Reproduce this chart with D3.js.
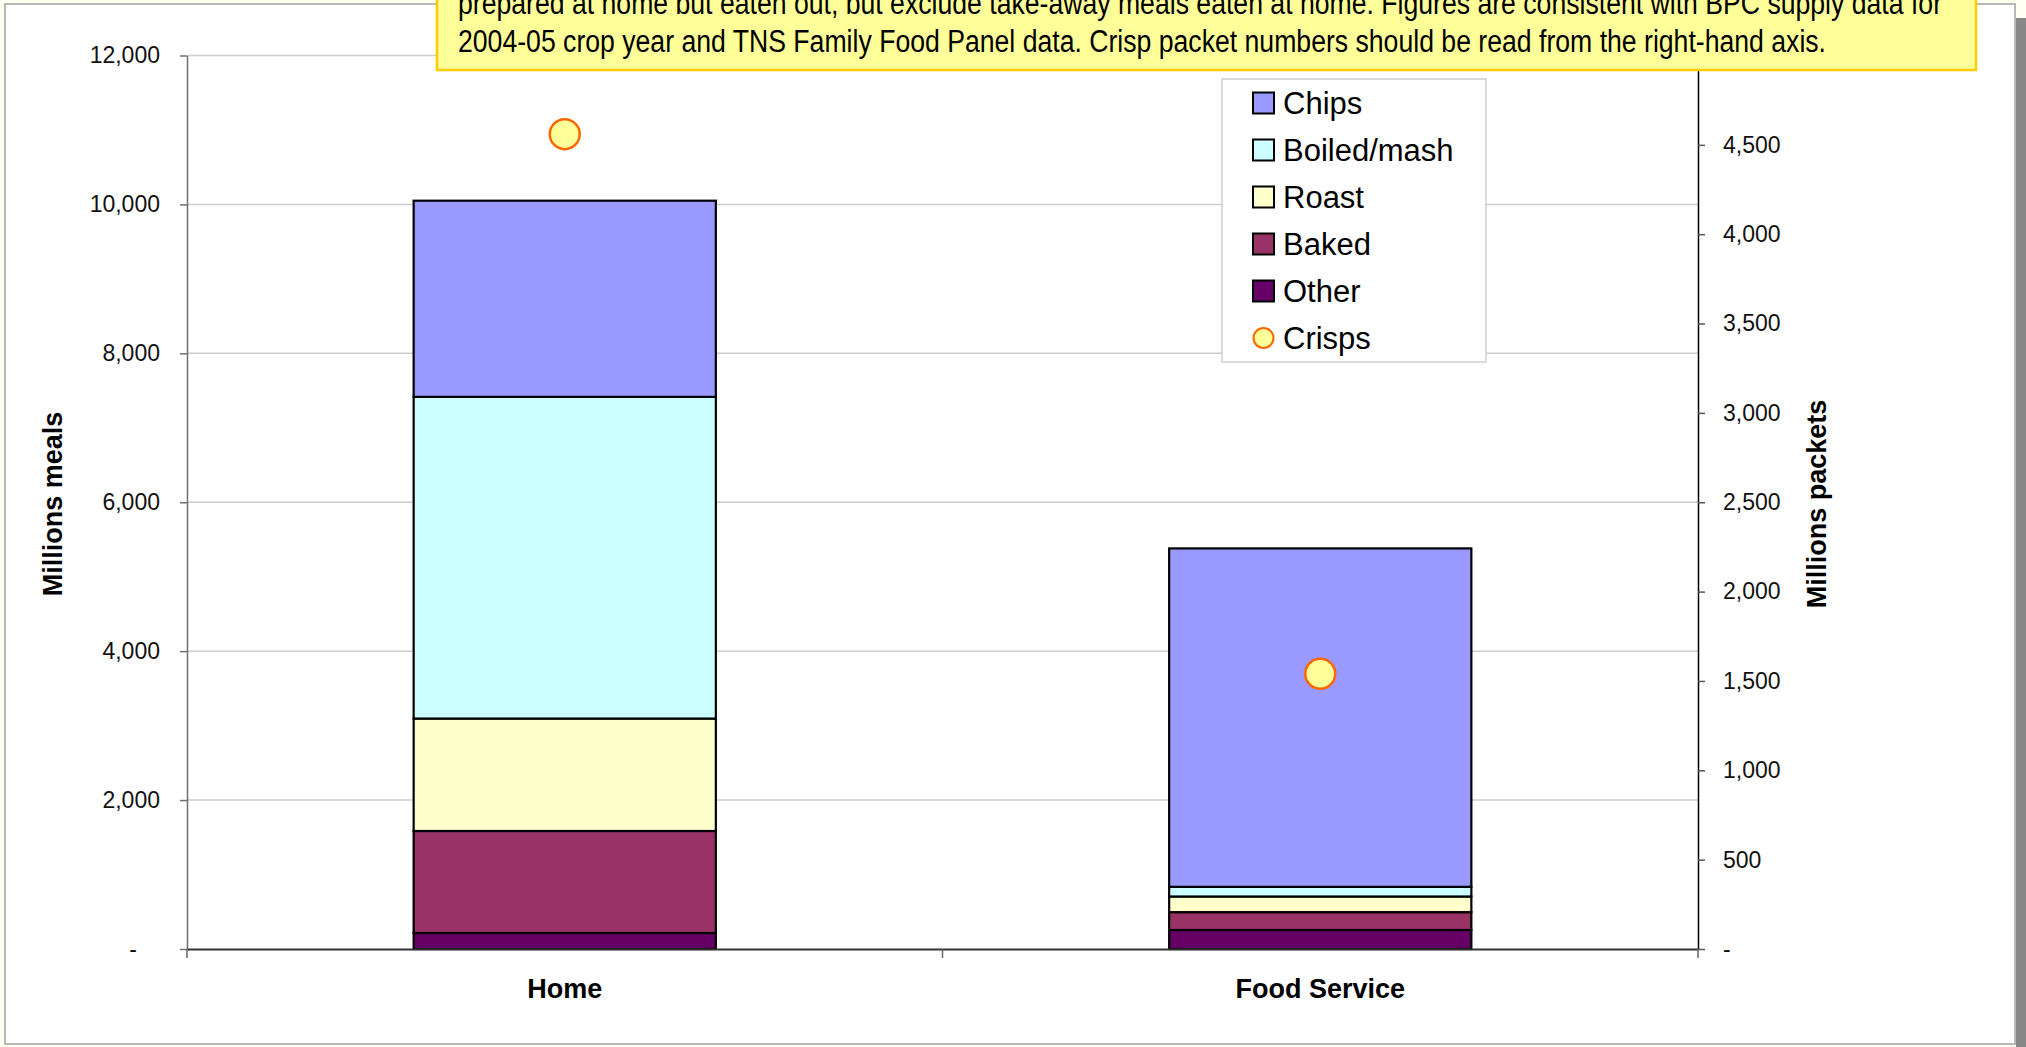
<!DOCTYPE html>
<html>
<head>
<meta charset="utf-8">
<script src="https://cdn.jsdelivr.net/npm/d3@7"></script>
<style>
  html, body { margin: 0; padding: 0; background: #fffff2; }
  svg { display: block; }
  text { font-family: "Liberation Sans", Arial, sans-serif; }
</style>
</head>
<body>
<svg id="chart" width="2026" height="1047"></svg>
<script>
// Potato consumption by outlet (millions of meals), crisps in millions of packets
const categories = ["Home", "Food Service"];
const seriesNames = ["Other", "Baked", "Roast", "Boiled/mash", "Chips"];
const otherVals  = [215, 255];
const bakedVals  = [1370, 240];
const roastVals  = [1510, 210];
const boiledVals = [4320, 130];
const chipsVals  = [2635, 4545];
const crispsVals = [4560, 1540];
const leftTicks  = [0, 2000, 4000, 6000, 8000, 10000, 12000];
const rightTicks = [0, 500, 1000, 1500, 2000, 2500, 3000, 3500, 4000, 4500];
const legendNames = ["Chips", "Boiled/mash", "Roast", "Baked", "Other", "Crisps"];
const noteLines = [
  "prepared at home but eaten out, but exclude take-away meals eaten at home.  Figures are consistent with BPC supply data for",
  "2004-05 crop year and TNS Family Food Panel data.  Crisp packet numbers should be read from the right-hand axis."
];

const colors = {
  "Chips": "#9999ff",
  "Boiled/mash": "#ccffff",
  "Roast": "#ffffcc",
  "Baked": "#993366",
  "Other": "#660066"
};

const rows = categories.map((c, i) => ({
  category: c,
  "Other": otherVals[i],
  "Baked": bakedVals[i],
  "Roast": roastVals[i],
  "Boiled/mash": boiledVals[i],
  "Chips": chipsVals[i],
  crisps: crispsVals[i]
}));

const svg = d3.select("#chart");

// chart frame with drop shadow
svg.append("rect").attr("x", 2016).attr("y", 18).attr("width", 12).attr("height", 1040).attr("fill", "#878787");
svg.append("rect").attr("x", 5).attr("y", 4).attr("width", 2010).attr("height", 1040)
  .attr("fill", "#ffffff").attr("stroke", "#b8b8b8").attr("stroke-width", 2);

const plot = { left: 187, right: 1698, top: 55.5, bottom: 949 };

const x = d3.scaleBand().domain(categories).range([plot.left, plot.right])
  .paddingInner(0.6).paddingOuter(0.3);
const yL = d3.scaleLinear().domain([0, 12000]).range([plot.bottom, plot.top]);
const yR = d3.scaleLinear().domain([0, 5000]).range([plot.bottom, plot.top]);

// horizontal gridlines
svg.append("g").selectAll("line").data(leftTicks.filter(d => d > 0)).join("line")
  .attr("x1", plot.left).attr("x2", plot.right)
  .attr("y1", d => yL(d)).attr("y2", d => yL(d))
  .attr("stroke", "#cccccc").attr("stroke-width", 1.5);

// stacked bars
const stacked = d3.stack().keys(seriesNames)(rows);
svg.append("g").selectAll("g").data(stacked).join("g")
  .attr("fill", d => colors[d.key])
  .selectAll("rect").data(d => d).join("rect")
  .attr("x", d => x(d.data.category))
  .attr("width", x.bandwidth())
  .attr("y", d => yL(d[1]))
  .attr("height", d => yL(d[0]) - yL(d[1]))
  .attr("stroke", "#000").attr("stroke-width", 2.2);

// left axis
const fmt = d3.format(",");
const leftAxis = svg.append("g").attr("transform", `translate(${plot.left},0)`)
  .call(d3.axisLeft(yL).tickValues(leftTicks).tickSize(7).tickSizeOuter(0).tickPadding(20)
    .tickFormat(d => d === 0 ? "-" : fmt(d)));
leftAxis.select(".domain").attr("stroke", "#707070").attr("stroke-width", 1.5);
leftAxis.selectAll(".tick line").attr("stroke", "#707070").attr("stroke-width", 1.5);
leftAxis.selectAll(".tick text").attr("font-size", 23).attr("fill", "#111")
  .attr("font-family", "'Liberation Sans', Arial, sans-serif")
  .filter(d => d === 0).attr("x", -50);

// right axis (scale runs to 5,000; the top label sits beneath the note box)
const rightAxis = svg.append("g").attr("transform", `translate(${plot.right},0)`)
  .call(d3.axisRight(yR).tickValues(rightTicks).tickSize(7).tickSizeOuter(0).tickPadding(18)
    .tickFormat(d => d === 0 ? "-" : fmt(d)));
rightAxis.select(".domain").attr("stroke", "#000").attr("stroke-width", 1.5);
rightAxis.selectAll(".tick line").attr("stroke", "#555").attr("stroke-width", 1.5);
rightAxis.selectAll(".tick text").attr("font-size", 23).attr("fill", "#111")
  .attr("font-family", "'Liberation Sans', Arial, sans-serif");

// category axis
const xAxis = svg.append("g").attr("transform", `translate(0,${plot.bottom})`)
  .call(d3.axisBottom(x).tickSize(0).tickPadding(30));
xAxis.select(".domain").attr("stroke", "#333").attr("stroke-width", 1.8);
xAxis.selectAll(".tick text").attr("font-size", 27).attr("font-weight", "bold").attr("fill", "#000")
  .attr("font-family", "'Liberation Sans', Arial, sans-serif");
const step = x.step();
svg.append("g").selectAll("line")
  .data(d3.range(categories.length + 1).map(i => plot.left + i * step)).join("line")
  .attr("x1", d => d).attr("x2", d => d)
  .attr("y1", plot.bottom).attr("y2", plot.bottom + 9)
  .attr("stroke", "#666").attr("stroke-width", 1.5);

// axis titles
svg.append("text").attr("transform", `translate(53,504) rotate(-90)`)
  .attr("text-anchor", "middle").attr("dominant-baseline", "central")
  .attr("font-size", 27).attr("font-weight", "bold").text("Millions meals");
svg.append("text").attr("transform", `translate(1817,504) rotate(-90)`)
  .attr("text-anchor", "middle").attr("dominant-baseline", "central")
  .attr("font-size", 27).attr("font-weight", "bold").text("Millions packets");

// crisps markers on the right-hand scale
svg.append("g").selectAll("circle").data(rows).join("circle")
  .attr("cx", d => x(d.category) + x.bandwidth() / 2)
  .attr("cy", d => yR(d.crisps))
  .attr("r", 15)
  .attr("fill", "#ffff99").attr("stroke", "#ff6600").attr("stroke-width", 2.5);

// legend
const lg = svg.append("g");
lg.append("rect").attr("x", 1222).attr("y", 79).attr("width", 264).attr("height", 283)
  .attr("fill", "#fff").attr("stroke", "#cfcfcf").attr("stroke-width", 1.5);
const items = lg.selectAll("g.item").data(legendNames).join("g")
  .attr("class", "item")
  .attr("transform", (d, i) => `translate(1253,${103 + i * 47})`);
items.filter(d => d !== "Crisps").append("rect")
  .attr("x", 0).attr("y", -10.5).attr("width", 21).attr("height", 21)
  .attr("fill", d => colors[d]).attr("stroke", "#000").attr("stroke-width", 2);
items.filter(d => d === "Crisps").append("circle")
  .attr("cx", 10.5).attr("cy", 0).attr("r", 10)
  .attr("fill", "#ffff99").attr("stroke", "#ff6600").attr("stroke-width", 2);
items.append("text").attr("x", 30).attr("dy", "0.36em")
  .attr("font-size", 31).attr("fill", "#000").text(d => d);

// note box
const note = svg.append("g");
note.append("rect").attr("x", 437).attr("y", -20).attr("width", 1539).attr("height", 90)
  .attr("fill", "#ffff99").attr("stroke", "#ffcc00").attr("stroke-width", 2.5);
const noteWidths = [1484, 1368];
note.selectAll("text").data(noteLines).join("text")
  .attr("x", 458).attr("y", (d, i) => 14 + i * 38)
  .attr("font-size", 31).attr("fill", "#000")
  .attr("font-family", "'Liberation Sans Narrow', 'Arial Narrow', 'Liberation Sans', Arial, sans-serif")
  .attr("textLength", (d, i) => noteWidths[i])
  .attr("lengthAdjust", "spacingAndGlyphs")
  .text(d => d);
</script>
</body>
</html>
